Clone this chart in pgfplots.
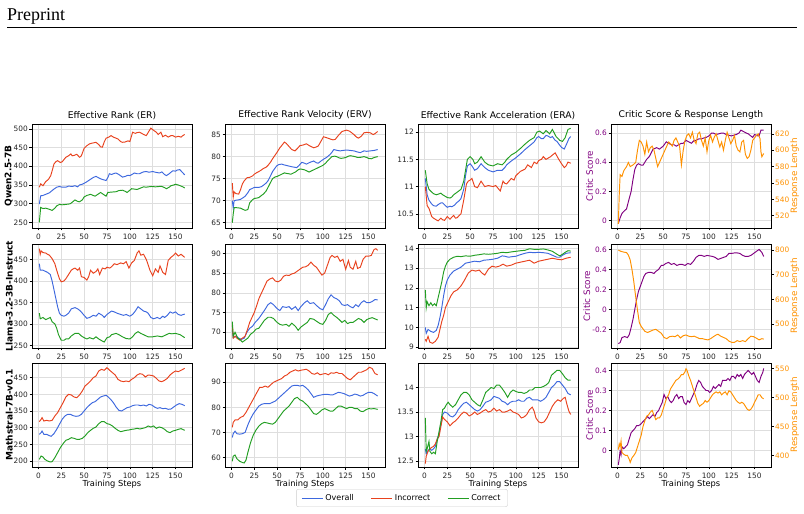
\documentclass[border=0pt]{standalone}
\usepackage{pgfplots}
\pgfplotsset{compat=1.18}
\usepackage{fontspec}
\setmainfont{DejaVu Sans}
\newfontfamily\seriffont{Liberation Serif}
\definecolor{cblue}{RGB}{61,104,222}
\definecolor{cred}{RGB}{232,66,30}
\definecolor{cgreen}{RGB}{34,158,34}
\definecolor{cpurple}{RGB}{128,0,128}
\definecolor{corange}{RGB}{255,145,0}
\pgfplotsset{
  panel/.style={
    scale only axis, width=160pt, height=104pt,
    xmin=-7, xmax=168, xtick={0,25,50,75,100,125,150},
    grid=major, major grid style={black!13, line width=0.6pt},
    axis line style={line width=0.9pt},
    tick align=outside, major tick length=2.5pt,
    tick style={black, line width=0.6pt},
    tick label style={font=\fontsize{7.4}{8}\selectfont, text=black!85},
    yticklabel style={inner xsep=1.5pt},
    /pgf/number format/assume math mode=true,
    title style={font=\fontsize{9.2}{10}\selectfont, yshift=-5pt},
    xlabel style={font=\fontsize{8.3}{9}\selectfont, yshift=5pt},
    ylabel style={font=\fontsize{9}{10}\bfseries\selectfont},
    ylabel shift=-4pt,
    xtick pos=bottom, ytick pos=left,
    every axis plot/.append style={line width=0.95pt, mark=none},
  },
  twin/.style={
    scale only axis, width=160pt, height=104pt,
    xmin=-7, xmax=168, axis x line=none, axis y line*=right,
    axis line style={line width=0.9pt},
    tick align=outside, major tick length=2.5pt,
    tick style={black, line width=0.6pt},
    tick label style={font=\fontsize{7.4}{8}\selectfont, text=corange},
    yticklabel style={inner xsep=1.5pt},
    /pgf/number format/assume math mode=true,
    ylabel style={font=\fontsize{8.8}{10}\selectfont, text=corange},
    ylabel shift=-4pt,
    every axis plot/.append style={line width=0.95pt, mark=none},
  },
  critic/.style={ylabel={Critic Score}, ylabel style={font=\fontsize{8.8}{10}\selectfont, text=cpurple},
    ylabel shift=-3pt, yticklabel style={text=cpurple}},
}
\begin{document}
\begin{tikzpicture}
\path[use as bounding box] (0,0) rectangle (804pt,514pt);
\node[anchor=base west, inner sep=0pt, font=\seriffont\fontsize{18}{20}\selectfont] at (7pt,493pt) {Preprint};
\draw[line width=0.6pt] (7pt,487pt) -- (797pt,487pt);

%================ ROW 1: Qwen =================
\begin{axis}[panel, at={(32pt,390pt)}, anchor=north west, ymin=235, ymax=513,
  ytick={250,300,350,400,450,500}, title={Effective Rank (ER)}, ylabel={Qwen2.5-7B}]
\addplot[cblue] coordinates {(1,299)(2.5,321)(5,322)(8,325)(12,329)(14,333)(17,339)(20,344)(23,346)(26,344)(30,344)(33,347)(37,346)(40,348)(43,345)(45,350)(48,352)(52,357)(55,362)(57.5,366)(60,370)(63,373)(66,369)(68.5,366)(71,364)(74,362)(76,370)(77.6,380)(80,378)(83,381)(85,382)(88,378)(92,371)(95,373)(98,376)(100,375)(103,379)(105,382)(108,380)(110.6,380)(113,383)(115,385)(118,386)(121,384)(125,386)(128,384)(132.6,382)(135,385)(138,378)(140,375)(143,380)(147,388)(150,387)(152,390)(154.6,391)(157,385)(160,377)};
\addplot[cred] coordinates {(1,344)(2.5,353)(5,348)(8,359)(11,365)(13.5,375)(15.5,392)(17,406)(19,412)(21,415)(24,410)(26,412)(28,418)(30,424)(33,428)(35.5,433)(37,428)(39,429)(42,432)(45,424)(47,428)(50,448)(53,455)(56,460)(59,462)(63,464)(66,458)(68,452)(70,451)(72,465)(74,475)(77,478)(79.5,482)(82,478)(85,475)(87,473)(90,466)(92,464)(95,465)(98,468)(100,466)(102,482)(103,491)(106,488)(108,490)(110.6,491)(113,488)(115,485)(118,482)(120,490)(123,502)(126,496)(129,491)(131,485)(134,491)(136,479)(139,483)(142,478)(145,482)(147,482)(150,478)(153,480)(156,478)(158,482)(160,485)};
\addplot[cgreen] coordinates {(1,250)(2.5,290)(5,287)(8,288)(12,285)(15,282)(18,288)(20,294)(23,298)(26,297)(30,298)(33,299)(35,300)(38,306)(40,310)(43,306)(45,305)(48,310)(50,318)(53,322)(57,325)(60,322)(62,320)(65,325)(68,330)(71,325)(74,320)(76,330)(80,331)(85,332)(88,335)(92,336)(95,333)(97,330)(100,336)(102,340)(105,339)(108,338)(112,342)(115,345)(118,344)(120,345)(124,346)(128,345)(132,346)(135,346)(138,343)(140,340)(143,344)(145,348)(148,350)(150,352)(153,350)(155,348)(158,345)(160,342)};
\end{axis}

\begin{axis}[panel, at={(225pt,390pt)}, anchor=north west, ymin=63.8, ymax=87.4,
  ytick={65,70,75,80,85}, title={Effective Rank Velocity (ERV)}]
\addplot[cblue] coordinates {(1,70)(2,68.3)(3,70)(5,70.1)(8,70.2)(10,70.3)(13,70.7)(15,71)(18,71.8)(20,72.5)(23,72.8)(25,73)(28,73)(30,73)(33,73.2)(35,73.5)(38,74)(40,74.5)(42,75.3)(45,76.6)(49.5,77.9)(52,78.2)(55,78.3)(58,78.1)(62,77.9)(66,77.7)(71.4,77.5)(74,78)(77,78.7)(80,78.5)(82,78.3)(86,78.7)(90,79)(93,78.6)(95,78.5)(98,79)(100.7,79.4)(104,79.8)(108,80.5)(110,81)(112,81.6)(116,81.4)(119,81.3)(122,81.4)(126,81.5)(130,81.4)(134,81.3)(137,81.1)(141,80.9)(145,81.3)(148,81.2)(152,81.3)(156,81.4)(160,81.6)};
\addplot[cred] coordinates {(1,74)(2,70.8)(3,72)(5,71.6)(8,71.5)(10,72.5)(12,73.8)(14,74.5)(17,75.2)(20,75.3)(23,75.6)(25,76)(28,76.4)(30,76.6)(33,77)(35,77.3)(38,77.6)(40,78)(43,78.8)(45,79.5)(48,80.4)(50,81)(53,82)(55,82.5)(58,83.3)(60,83)(63,82.3)(66,81.6)(69.6,81.3)(72,81.8)(75,82.5)(78,82.6)(82,82.9)(86,82.4)(90,82)(93,82.2)(95,82.4)(98,83.5)(100.7,84.5)(104,84.3)(108,84)(111,83.8)(113.5,83.9)(117,84.8)(121,85.7)(124,85.9)(126,86)(129,85.8)(131,85.5)(134,85)(137,84.4)(139,84.2)(142,84.6)(145,85.4)(148,85.5)(152,85.4)(155,85)(157,85.2)(160,85.7)};
\addplot[cgreen] coordinates {(1,65)(2,67)(3,68.4)(6,68.4)(10,68.3)(13,68)(15,67.8)(18,68)(20,69.5)(23,70.2)(25,70.5)(28,70.6)(30,70.7)(33,71.2)(35,71.5)(38,72.2)(40,73)(43,74.2)(45,75)(48,75.4)(50,75.5)(53,75.8)(55,76)(58,76.3)(60,76.2)(63,76.1)(65,76)(68,76.3)(70,76.5)(73,77)(75,77.2)(78,77.1)(80,77)(83,76.7)(85,76.5)(88,76.8)(90,77)(93,77.3)(95,77.5)(98,77.8)(100,78)(103,78.5)(105,79)(108,79.6)(110,80)(113,80.1)(115,80)(118,79.7)(120,79.6)(123,79.7)(125,79.8)(128,80.1)(130,80.2)(133,80.1)(135,80)(138,79.8)(140,79.8)(143,79.9)(145,80)(148,79.8)(150,79.6)(153,79.5)(155,79.7)(158,79.9)(160,80)};
\end{axis}

\begin{axis}[panel, at={(418pt,390pt)}, anchor=north west, ymin=10.24, ymax=12.15,
  ytick={10.5,11,11.5,12}, title={Effective Rank Acceleration (ERA)}]
\addplot[cblue] coordinates {(1,11.15)(3,10.85)(5,10.75)(8,10.68)(10,10.65)(13,10.64)(15,10.67)(18,10.7)(20,10.7)(23,10.65)(25,10.62)(28,10.64)(30,10.63)(33,10.66)(35,10.7)(38,10.74)(40,10.78)(43,10.95)(45,11.2)(47,11.38)(50,11.42)(52,11.38)(55,11.3)(58,11.33)(62,11.42)(66,11.35)(70,11.3)(75,11.27)(80,11.3)(85,11.3)(88,11.35)(90,11.4)(95,11.47)(100,11.53)(105,11.6)(110,11.68)(115,11.75)(120,11.82)(123,11.9)(125,11.92)(128,11.88)(130,11.88)(133,11.94)(135,11.93)(138,11.9)(140,11.92)(143,11.85)(145,11.83)(148,11.76)(150,11.72)(153,11.69)(156,11.8)(158,11.88)(160,11.92)};
\addplot[cred] coordinates {(1,11.0)(3,10.65)(5,10.6)(8,10.45)(10,10.42)(12,10.4)(15,10.37)(18,10.42)(20,10.39)(22,10.38)(25,10.45)(28,10.4)(30,10.44)(32,10.47)(34,10.42)(36,10.43)(38,10.47)(40,10.5)(43,10.75)(46,11.05)(48,11.1)(50,11.12)(52,11.15)(55,11.0)(58,10.98)(60,11.04)(62,11.1)(64,11.05)(66,11.0)(70,11.02)(75,11.0)(78,11.02)(80,10.98)(83,10.92)(86,11.1)(88,11.06)(90,11.05)(95,11.15)(98,11.12)(100,11.2)(105,11.28)(110,11.32)(113,11.4)(117,11.35)(120,11.45)(123,11.42)(125,11.48)(128,11.5)(130,11.55)(133,11.5)(135,11.52)(138,11.55)(140,11.58)(143,11.62)(145,11.56)(147,11.5)(150,11.42)(153,11.35)(155,11.38)(157,11.45)(160,11.43)};
\addplot[cgreen] coordinates {(1,11.3)(3,11.05)(5,10.95)(8,10.9)(10,10.87)(13,10.85)(15,10.86)(18,10.88)(20,10.85)(23,10.82)(25,10.8)(28,10.79)(30,10.81)(32,10.85)(36,10.9)(40,10.95)(43,11.1)(45,11.3)(47,11.5)(50,11.55)(53,11.5)(55,11.42)(58,11.45)(62,11.55)(66,11.45)(70,11.4)(75,11.38)(80,11.42)(85,11.4)(88,11.45)(90,11.5)(95,11.58)(100,11.63)(105,11.7)(110,11.78)(115,11.85)(120,11.9)(123,12.0)(126,12.02)(130,11.97)(133,12.03)(137,11.97)(140,12.05)(144,11.92)(148,11.85)(151,11.83)(154,11.9)(157,12.05)(160,12.07)};
\end{axis}

\begin{axis}[panel, critic, at={(611pt,390pt)}, anchor=north west, ymin=-0.05, ymax=0.662,
  ytick={0,0.2,0.4,0.6}, title={Critic Score \& Response Length}]
\addplot[cpurple] coordinates {(1,-0.02)(3,0.02)(5,0.05)(8,0.07)(10,0.08)(12,0.13)(15,0.2)(17,0.28)(19,0.35)(21,0.38)(23,0.39)(26,0.38)(28,0.38)(32,0.42)(35,0.44)(39,0.49)(43,0.5)(46,0.49)(50,0.51)(53.5,0.54)(56,0.53)(59,0.52)(62,0.52)(64.4,0.51)(67,0.52)(70,0.53)(72,0.53)(75,0.55)(78,0.54)(81,0.53)(84,0.55)(86,0.55)(89,0.56)(92,0.56)(94,0.565)(97,0.57)(100,0.58)(103,0.6)(105,0.6)(108,0.59)(111,0.595)(114,0.6)(116,0.6)(119,0.59)(122,0.585)(124.5,0.58)(127,0.585)(130,0.59)(133,0.6)(135,0.62)(138,0.61)(141,0.6)(143,0.595)(146,0.58)(148,0.57)(150,0.59)(152,0.585)(153.6,0.58)(155,0.58)(157,0.62)(160,0.62)};
\end{axis}
\begin{axis}[twin, at={(611pt,390pt)}, anchor=north west, ymin=505, ymax=632,
  ytick={520,540,560,580,600,620}, ylabel={Response Length}]
\addplot[corange] coordinates {(1,510)(2,545)(3,570)(5,568)(7,575)(10,580)(12,585)(14,580)(17,582)(20,585)(22,600)(24,612)(26,610)(28,605)(30,595)(32,610)(34,598)(36,603)(38,605)(40,600)(42,590)(44,580)(46,585)(48,590)(50,595)(52,600)(54,605)(56,610)(58,608)(60,605)(62,612)(64,615)(66,610)(68,605)(70,582)(72,600)(74,612)(76,618)(78,620)(80,615)(82,622)(84,612)(86,608)(88,620)(90,622)(92,612)(94,605)(96,615)(98,598)(100,612)(102,618)(104,610)(106,616)(108,620)(110,612)(112,604)(114,610)(116,600)(118,612)(120,622)(122,615)(124,608)(126,612)(128,618)(130,605)(132,600)(134,598)(136,610)(138,612)(140,595)(142,590)(144,592)(146,600)(148,612)(150,615)(152,618)(154,620)(156,614)(157,598)(158,592)(160,596)};
\end{axis}

%================ ROW 2: Llama =================
\begin{axis}[panel, at={(32pt,270pt)}, anchor=north west, ymin=244, ymax=486,
  ytick={250,300,350,400,450}, ylabel={Llama-3.2-3B-Instruct}]
\addplot[cblue] coordinates {(1,440)(2,425)(5,425)(10,420)(13,415)(15,400)(17,380)(19,360)(21,340)(23,325)(25,320)(28,318)(30,320)(33,325)(36,335)(40,338)(43,335)(46,330)(50,320)(53,313)(56,315)(60,320)(63,318)(66,325)(70,320)(72,315)(75,322)(80,330)(83,328)(86,325)(90,322)(93,320)(96,322)(100,318)(103,322)(106,330)(109,340)(112,335)(115,330)(118,328)(120,325)(123,315)(126,312)(130,315)(133,312)(136,318)(138,315)(141,320)(144,328)(147,325)(150,328)(153,322)(156,320)(160,323)};
\addplot[cred] coordinates {(1,475)(2,462)(3,470)(5,466)(8,465)(10,462)(12,460)(15,452)(18,440)(20,425)(23,405)(25,398)(28,400)(30,405)(33,415)(36,425)(38,428)(40,430)(43,425)(45,430)(47,410)(50,408)(53,402)(55,410)(57,425)(60,418)(63,422)(65,428)(67,415)(70,430)(73,428)(75,432)(78,430)(80,433)(83,440)(86,438)(90,442)(93,440)(96,445)(99,430)(102,442)(105,448)(108,465)(110,470)(112,460)(115,462)(118,450)(120,438)(122,425)(125,412)(128,428)(131,420)(133,435)(136,420)(139,415)(142,448)(145,455)(148,460)(150,465)(153,458)(156,462)(160,455)};
\addplot[cgreen] coordinates {(1,325)(2,312)(5,315)(8,310)(10,312)(13,315)(15,305)(18,300)(20,290)(22,275)(25,262)(28,262)(30,265)(33,265)(36,272)(40,278)(44,278)(47,272)(50,268)(53,265)(56,268)(60,265)(63,270)(66,265)(70,260)(72,258)(75,268)(78,270)(80,275)(85,278)(88,275)(92,270)(96,266)(100,265)(103,270)(106,278)(109,282)(112,278)(115,275)(120,270)(125,270)(130,272)(135,270)(140,275)(143,278)(146,277)(150,278)(155,275)(160,268)};
\end{axis}

\begin{axis}[panel, at={(225pt,270pt)}, anchor=north west, ymin=66, ymax=92.4,
  ytick={70,75,80,85,90}]
\addplot[cblue] coordinates {(1,70.5)(2,68.6)(5,69)(8,68.5)(11,68.2)(14,68.5)(17,70)(20,71)(23,71.5)(26,72.5)(30,73.5)(33,74.5)(36,75.5)(40,77)(43,77.5)(46,77)(50,76)(53,75.5)(56,76.5)(60,76.3)(63,76.5)(66,75.8)(70,76.5)(73,75.5)(76,76.5)(80,77.5)(83,78)(86,77.3)(90,77.5)(93,76.8)(97,76)(100,75.7)(103,77)(106,78.5)(109,79.5)(112,78.8)(115,78.5)(118,78)(121,77)(124,76.8)(127,77)(130,76.5)(133,76.2)(136,77)(139,76.5)(142,77.5)(145,78)(148,77.5)(151,77.5)(154,77.8)(157,78.3)(160,78.2)};
\addplot[cred] coordinates {(1,72)(2,68.5)(4,69)(6,68.5)(9,68)(12,68.5)(15,69)(18,71)(20,72.5)(23,74)(25,75)(28,77)(30,78.5)(33,80)(36,81.5)(39,83)(42,83.5)(45,83.8)(48,83)(51,82.8)(54,83.2)(57,84.2)(60,84.5)(63,84.4)(66,84.8)(69,85)(72,85.5)(75,86)(78,86.5)(81,86.6)(84,87)(87,87.8)(90,87)(93,86.5)(96,85.5)(99,84.5)(102,85)(105,87)(108,89)(110,89.5)(113,89)(116,89.3)(119,88)(122,88.5)(125,86)(128,88.2)(130,86.5)(133,86)(136,88)(138,86.2)(141,86.5)(144,88.5)(147,89.3)(150,89.3)(153,89.5)(156,91)(158,91.2)(160,90.8)};
\addplot[cgreen] coordinates {(1,72.7)(2,69)(4,70)(7,68.5)(10,68)(12,67.5)(15,68)(18,68.5)(21,69.5)(24,70)(27,70.8)(30,71)(33,72)(36,73)(40,73.8)(43,73.8)(46,73.5)(50,72.5)(53,72)(56,71.8)(60,72)(63,71.5)(66,72.3)(70,71.5)(73,70.5)(76,71.3)(80,72)(83,72.5)(86,73.5)(90,73.3)(93,72.8)(97,72.2)(100,72)(103,73)(106,74.5)(109,75)(112,74.3)(115,73.8)(118,73.2)(121,72.5)(124,73)(127,72.2)(130,72.5)(133,72.5)(136,73)(139,73.5)(142,73.2)(145,72.5)(148,73.2)(151,73.5)(154,73.7)(157,73.4)(160,73.1)};
\end{axis}

\begin{axis}[panel, at={(418pt,270pt)}, anchor=north west, ymin=8.96, ymax=14.22,
  ytick={9,10,11,12,13,14}]
\addplot[cblue] coordinates {(1,10.0)(2,9.7)(4,9.9)(7,9.8)(10,9.75)(13,9.85)(15,10.1)(17,10.5)(19,11.0)(21,11.6)(23,12.1)(25,12.4)(28,12.65)(32,12.85)(36,12.95)(40,13.05)(45,13.25)(50,13.3)(55,13.35)(60,13.32)(65,13.4)(70,13.42)(75,13.45)(80,13.5)(85,13.62)(88,13.6)(92,13.55)(96,13.58)(100,13.6)(105,13.68)(110,13.75)(115,13.8)(120,13.78)(125,13.8)(130,13.78)(135,13.75)(140,13.65)(145,13.55)(148,13.55)(151,13.65)(155,13.75)(160,13.78)};
\addplot[cred] coordinates {(1,9.4)(2,9.3)(4,9.55)(6,9.25)(9,9.2)(12,9.3)(15,9.5)(17,9.9)(19,10.3)(21,10.6)(23,11.0)(26,11.3)(29,11.6)(32,11.8)(36,11.9)(40,12.1)(44,12.4)(48,12.75)(52,12.9)(56,12.85)(60,12.9)(63,12.75)(66,12.65)(70,12.95)(74,13.1)(78,13.05)(82,13.1)(86,13.2)(90,13.1)(95,13.15)(100,13.25)(105,13.3)(110,13.35)(115,13.4)(120,13.25)(125,13.35)(130,13.4)(135,13.45)(140,13.5)(145,13.45)(150,13.42)(155,13.5)(160,13.55)};
\addplot[cgreen] coordinates {(1,11.9)(2,11.0)(3,11.3)(5,11.1)(7,11.25)(9,11.1)(11,11.2)(13,11.1)(15,11.5)(17,11.9)(19,12.3)(21,12.8)(23,13.1)(25,13.3)(28,13.45)(32,13.55)(36,13.6)(40,13.58)(45,13.62)(50,13.6)(55,13.65)(60,13.68)(65,13.72)(70,13.7)(75,13.72)(80,13.75)(85,13.8)(90,13.78)(95,13.82)(100,13.85)(105,13.88)(110,13.9)(115,13.98)(120,13.95)(125,13.95)(130,13.97)(135,13.92)(140,13.85)(145,13.7)(148,13.62)(151,13.7)(154,13.8)(157,13.88)(160,13.86)};
\end{axis}

\begin{axis}[panel, critic, at={(611pt,270pt)}, anchor=north west, ymin=-0.384, ymax=0.654,
  ytick={-0.2,0,0.2,0.4,0.6}]
\addplot[cpurple] coordinates {(1,-0.34)(3,-0.33)(5,-0.28)(8,-0.27)(11,-0.28)(13,-0.25)(15,-0.18)(17,-0.1)(19,0.0)(21,0.1)(23,0.18)(25,0.23)(27,0.28)(29,0.33)(31,0.36)(34,0.37)(37,0.37)(40,0.36)(42,0.38)(45,0.4)(48,0.44)(50,0.44)(53,0.46)(56,0.47)(59,0.45)(62,0.46)(65,0.44)(68,0.45)(71,0.45)(74,0.44)(77,0.46)(80,0.45)(83,0.48)(86,0.52)(89,0.54)(92,0.54)(95,0.53)(98,0.54)(101,0.535)(104,0.53)(107,0.52)(110,0.5)(113,0.51)(116,0.52)(119,0.53)(122,0.56)(125,0.56)(128,0.565)(131,0.565)(134,0.56)(137,0.54)(140,0.53)(143,0.53)(146,0.54)(149,0.56)(152,0.58)(155,0.6)(158,0.57)(160,0.53)};
\end{axis}
\begin{axis}[twin, at={(611pt,270pt)}, anchor=north west, ymin=402, ymax=825,
  ytick={500,600,700,800}, ylabel={Response Length}]
\addplot[corange] coordinates {(1,800)(4,795)(7,792)(10,790)(12,780)(14,760)(16,720)(18,670)(20,610)(22,555)(24,505)(26,490)(28,480)(30,470)(33,465)(36,470)(39,475)(42,478)(45,470)(48,462)(51,445)(54,440)(57,448)(60,450)(63,448)(66,455)(69,443)(72,452)(75,455)(78,450)(81,448)(84,450)(87,445)(90,440)(93,440)(96,437)(99,435)(102,440)(105,448)(108,455)(110,458)(113,450)(116,445)(119,440)(122,430)(125,425)(128,425)(131,432)(134,428)(137,432)(140,428)(143,440)(146,450)(149,448)(152,442)(155,435)(158,440)(160,438)};
\end{axis}

%================ ROW 3: Mathstral =================
\begin{axis}[panel, at={(32pt,151pt)}, anchor=north west, ymin=182, ymax=494,
  ytick={200,250,300,350,400,450}, ylabel={Mathstral-7B-v0.1}, xlabel={Training Steps}]
\addplot[cblue] coordinates {(1,280)(3,285)(4,290)(6,280)(9,280)(12,276)(14,274)(17,282)(20,295)(23,310)(26,325)(29,335)(32,340)(35,340)(38,336)(41,334)(44,335)(47,340)(50,350)(53,360)(56,368)(59,375)(62,378)(65,385)(68,392)(71,395)(74,397)(76,393)(79,385)(82,375)(85,362)(88,352)(91,350)(94,355)(97,360)(100,362)(103,366)(106,368)(109,368)(112,366)(115,368)(118,365)(121,370)(124,368)(127,362)(130,358)(133,360)(136,357)(139,358)(142,355)(145,356)(148,362)(151,368)(154,372)(157,370)(160,366)};
\addplot[cred] coordinates {(1,318)(3,325)(4,330)(6,320)(9,322)(12,320)(15,322)(18,335)(21,345)(24,360)(27,375)(30,392)(33,400)(36,398)(39,392)(42,390)(45,398)(48,410)(51,425)(54,432)(57,440)(60,450)(63,455)(66,470)(69,475)(72,472)(75,480)(78,472)(81,465)(84,458)(87,445)(90,440)(93,438)(96,440)(99,438)(102,445)(105,450)(108,458)(111,462)(114,460)(117,452)(120,458)(123,457)(126,455)(129,448)(132,440)(135,438)(138,442)(141,448)(144,458)(147,465)(150,470)(153,468)(156,472)(160,478)};
\addplot[cgreen] coordinates {(1,205)(3,215)(5,212)(7,205)(10,200)(13,197)(15,198)(18,210)(21,225)(24,240)(27,252)(30,262)(33,265)(36,270)(39,268)(42,265)(45,265)(48,268)(51,275)(54,285)(57,292)(60,298)(63,302)(66,312)(69,318)(72,318)(75,312)(78,310)(81,305)(84,298)(87,292)(90,288)(93,290)(96,292)(99,293)(102,295)(105,296)(108,298)(111,296)(114,298)(117,300)(120,305)(123,302)(126,305)(129,298)(132,302)(135,300)(138,295)(141,288)(144,285)(147,290)(150,292)(153,295)(156,297)(160,292)};
\end{axis}

\begin{axis}[panel, at={(225pt,151pt)}, anchor=north west, ymin=56.2, ymax=97.7,
  ytick={60,70,80,90}, xlabel={Training Steps},
  legend style={at={(1.106,-0.298)}, anchor=center, draw=black!20, rounded corners=2pt,
    font=\fontsize{8}{10}\selectfont, inner xsep=5pt, inner ysep=3pt},
  legend columns=3,
  legend image code/.code={\draw[#1, line width=0.95pt] (0pt,0pt) -- (21pt,0pt);},
  legend cell align=left,
  /tikz/every even column/.append style={column sep=15pt}]
\addplot[cblue] coordinates {(1,68)(2,69.5)(4,70.5)(6,69.5)(9,69.3)(12,69.5)(15,70)(18,73)(21,75.5)(24,77.5)(27,79)(30,80.5)(33,81.2)(36,81.5)(39,81.5)(42,81.5)(45,82)(48,82.5)(51,83.5)(54,84.5)(57,85.5)(60,86.5)(63,87.5)(66,88.5)(69,88.8)(72,88.8)(75,88.5)(78,88.8)(81,88)(84,87)(87,85.5)(90,84)(93,84.5)(96,84.8)(99,85)(102,85.2)(105,85.2)(108,85)(111,85)(114,85.5)(117,86)(120,85.8)(123,85.5)(126,85)(129,84.5)(132,84.8)(135,85.3)(138,85)(141,84.5)(144,84.8)(147,85.5)(150,86)(153,86)(156,85.5)(160,84.5)};
\addlegendentry{Overall}
\addplot[cred] coordinates {(1,72)(2,74)(4,75)(7,75)(10,76)(13,76.5)(16,78)(19,80)(22,82)(25,84)(28,86)(31,88)(34,88)(37,88.5)(40,88)(43,89)(46,90)(49,90.5)(52,91)(55,91.5)(58,92.5)(61,93)(64,94)(67,94.5)(70,95)(73,94.5)(76,94.8)(79,95)(82,95.2)(85,94.5)(88,93.5)(91,93.2)(94,93.8)(97,93)(100,93.3)(103,93.5)(106,93)(109,93.8)(112,93.6)(115,94)(118,93.5)(121,93.5)(124,92.5)(127,91.5)(130,91)(133,92)(136,93)(139,94)(142,94)(145,94.5)(148,95)(151,96)(154,95.5)(157,93.5)(160,93)};
\addlegendentry{Incorrect}
\addplot[cgreen] coordinates {(1,58.5)(2,60.5)(4,61)(6,59.5)(9,58.5)(12,58)(14,57.8)(16,59)(18,62)(21,66)(24,69)(27,71)(30,72.5)(33,73.5)(36,74)(39,73.8)(42,73.5)(45,73.3)(48,74)(51,75.5)(54,77)(57,78.5)(60,79.5)(63,80.5)(66,82)(69,83.5)(72,84)(75,83)(78,82.5)(81,81.5)(84,80.5)(87,79)(90,77.5)(93,77.2)(96,78)(99,79)(102,79.5)(105,79)(108,78.5)(111,78.5)(114,79.5)(117,80.5)(120,80.5)(123,80)(126,79.5)(129,80)(132,80)(135,79.5)(138,79.5)(141,78.5)(144,78.3)(147,79)(150,79.5)(153,79.4)(156,79.5)(160,79.2)};
\addlegendentry{Correct}
\end{axis}

\begin{axis}[panel, at={(418pt,151pt)}, anchor=north west, ymin=12.38, ymax=14.5,
  ytick={12.5,13,13.5,14}, xlabel={Training Steps}]
\addplot[cblue] coordinates {(1,12.75)(2,12.65)(4,12.72)(6,12.75)(8,12.72)(10,12.75)(12,12.8)(14,12.95)(16,13.05)(18,13.25)(20,13.45)(22,13.5)(25,13.48)(28,13.42)(31,13.4)(34,13.45)(37,13.55)(40,13.62)(43,13.68)(46,13.7)(49,13.65)(52,13.6)(55,13.55)(58,13.52)(61,13.55)(64,13.62)(67,13.7)(70,13.72)(73,13.75)(76,13.82)(79,13.8)(82,13.78)(85,13.72)(88,13.7)(91,13.65)(94,13.7)(97,13.72)(100,13.72)(103,13.75)(106,13.72)(109,13.72)(112,13.78)(115,13.8)(118,13.75)(121,13.75)(124,13.75)(127,13.72)(130,13.75)(133,13.8)(136,13.9)(139,14.0)(142,14.05)(145,14.12)(148,14.12)(151,14.05)(154,13.98)(157,13.88)(160,13.85)};
\addplot[cred] coordinates {(1,12.45)(2,12.6)(4,12.7)(6,12.75)(8,12.78)(10,12.8)(12,12.85)(14,12.95)(16,13.0)(18,13.2)(20,13.4)(22,13.35)(25,13.3)(28,13.22)(31,13.28)(34,13.32)(37,13.38)(40,13.45)(43,13.5)(46,13.48)(49,13.42)(52,13.45)(55,13.5)(58,13.45)(61,13.48)(64,13.52)(67,13.55)(70,13.5)(73,13.52)(76,13.58)(79,13.52)(82,13.55)(85,13.5)(88,13.5)(91,13.52)(94,13.55)(97,13.5)(100,13.48)(103,13.45)(106,13.38)(109,13.4)(112,13.45)(115,13.55)(118,13.6)(120,13.52)(122,13.38)(125,13.3)(128,13.28)(131,13.3)(134,13.38)(137,13.5)(140,13.62)(143,13.7)(146,13.75)(149,13.72)(152,13.78)(154,13.8)(156,13.65)(158,13.52)(160,13.45)};
\addplot[cgreen] coordinates {(1,13.38)(2,12.7)(3,12.75)(5,12.9)(6,12.7)(8,12.65)(10,12.68)(12,12.65)(14,12.9)(16,13.1)(18,13.3)(20,13.55)(22,13.58)(24,13.65)(26,13.7)(28,13.65)(31,13.6)(34,13.65)(37,13.75)(40,13.85)(43,13.9)(46,13.9)(49,13.85)(52,13.75)(55,13.7)(58,13.65)(61,13.62)(64,13.75)(67,13.9)(70,13.95)(73,14.0)(76,13.98)(79,14.05)(82,14.05)(85,13.98)(88,13.9)(91,13.8)(94,13.9)(97,13.95)(100,13.92)(103,13.9)(106,13.9)(109,13.88)(112,13.9)(115,13.95)(118,13.95)(121,14.0)(124,14.0)(127,14.0)(130,14.02)(133,14.05)(136,14.1)(139,14.25)(142,14.3)(145,14.35)(148,14.35)(151,14.28)(154,14.2)(157,14.15)(160,14.15)};
\end{axis}

\begin{axis}[panel, critic, at={(611pt,151pt)}, anchor=north west, ymin=-0.081, ymax=0.437,
  ytick={0,0.1,0.2,0.3,0.4}, xlabel={Training Steps}]
\addplot[cpurple] coordinates {(1,-0.07)(2,-0.04)(3,0.0)(4,-0.02)(5,0.02)(7,0.01)(9,0.02)(11,0.03)(13,0.06)(15,0.09)(17,0.1)(19,0.11)(21,0.125)(23,0.125)(25,0.13)(27,0.14)(29,0.15)(31,0.16)(33,0.17)(35,0.16)(37,0.17)(39,0.18)(41,0.17)(43,0.19)(45,0.2)(47,0.22)(49,0.24)(51,0.28)(53,0.26)(55,0.27)(57,0.25)(59,0.24)(61,0.25)(63,0.27)(65,0.28)(67,0.26)(69,0.27)(71,0.27)(73,0.24)(75,0.23)(77,0.25)(79,0.24)(81,0.26)(83,0.28)(85,0.3)(87,0.33)(89,0.35)(91,0.34)(93,0.32)(95,0.31)(97,0.3)(99,0.3)(101,0.29)(103,0.3)(105,0.32)(107,0.31)(109,0.32)(111,0.33)(113,0.32)(115,0.35)(117,0.35)(119,0.35)(121,0.36)(123,0.35)(125,0.37)(127,0.37)(129,0.36)(131,0.38)(133,0.37)(135,0.38)(137,0.36)(139,0.38)(141,0.39)(143,0.4)(145,0.39)(147,0.38)(149,0.39)(151,0.37)(153,0.35)(155,0.34)(157,0.37)(159,0.39)(160,0.41)};
\end{axis}
\begin{axis}[twin, at={(611pt,151pt)}, anchor=north west, ymin=380, ymax=560,
  ytick={400,450,500,550}, ylabel={Response Length}]
\addplot[corange] coordinates {(1,410)(2,420)(3,415)(4,425)(5,405)(7,402)(9,400)(11,400)(13,393)(14,388)(16,396)(18,400)(20,405)(22,415)(24,425)(26,435)(28,450)(30,460)(32,468)(34,470)(36,475)(38,478)(40,470)(42,462)(44,465)(46,465)(48,470)(50,480)(52,490)(54,500)(56,505)(58,515)(60,520)(62,525)(64,530)(66,532)(68,535)(70,540)(72,540)(74,545)(75,550)(76,548)(78,538)(80,530)(82,520)(84,510)(86,500)(88,490)(90,485)(92,488)(94,490)(96,495)(98,492)(100,495)(102,500)(104,505)(106,508)(108,510)(110,508)(112,510)(114,505)(116,508)(118,510)(120,505)(122,512)(124,510)(126,505)(128,500)(130,495)(132,492)(134,490)(136,492)(138,490)(140,485)(142,480)(144,478)(146,480)(148,485)(150,492)(152,498)(154,505)(156,505)(158,500)(160,498)};
\end{axis}
\end{tikzpicture}
\end{document}
